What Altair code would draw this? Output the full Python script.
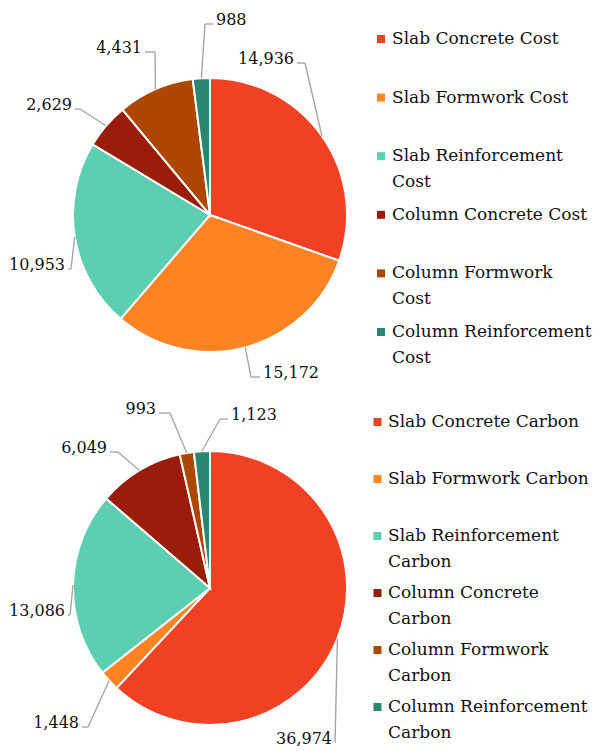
import altair as alt
import pandas as pd

# ---------------- data ----------------
cost_categories = ["Slab Concrete Cost", "Slab Formwork Cost", "Slab Reinforcement Cost",
                   "Column Concrete Cost", "Column Formwork Cost", "Column Reinforcement Cost"]
cost_legend = ["Slab Concrete Cost", "Slab Formwork Cost", "Slab Reinforcement\nCost",
               "Column Concrete Cost", "Column Formwork\nCost", "Column Reinforcement\nCost"]
cost_values = [14936, 15172, 10953, 2629, 4431, 988]

carbon_categories = ["Slab Concrete Carbon", "Slab Formwork Carbon", "Slab Reinforcement Carbon",
                     "Column Concrete Carbon", "Column Formwork Carbon", "Column Reinforcement Carbon"]
carbon_legend = ["Slab Concrete Carbon", "Slab Formwork Carbon", "Slab Reinforcement\nCarbon",
                 "Column Concrete\nCarbon", "Column Formwork\nCarbon", "Column Reinforcement\nCarbon"]
carbon_values = [36974, 1448, 13086, 6049, 993, 1123]

colors = ["#F04124", "#FF8322", "#5DCFB0", "#9A1D0A", "#AD4700", "#27876F"]

# ---------------- layout (annotation placement, not data) ----------------
W, H = 586, 740
R = 137
FONT = "DejaVu Serif"
layout = {
    "cost":   {"cx": 202, "cy": 207, "sqx": 373, "txx": 384, "ly0": 31, "lstep": 58.6,
               "ex": [95, 41, -139, -130, -55, -5], "ey": [-152, 162, 54, -106, -163, -191],
               "side": [-1, 1, -1, -1, -1, 1], "seg": [8, 9, 3, 5, 10, 8]},
    "carbon": {"cx": 202, "cy": 580, "sqx": 369.5, "txx": 380, "ly0": 414, "lstep": 57,
               "ex": [125, -122, -140, -92, -40, 10], "ey": [155, 139, 27, -136, -175, -169],
               "side": [-1, -1, -1, -1, -1, 1], "seg": [0, 6, 2, 8, 11, 8]},
}

rows = []
for chart, cats, legs, vals in [("cost", cost_categories, cost_legend, cost_values),
                                ("carbon", carbon_categories, carbon_legend, carbon_values)]:
    L = layout[chart]
    for i, (c, lg, v) in enumerate(zip(cats, legs, vals)):
        rows.append({"chart": chart, "order": i, "category": c, "legend": lg, "value": v,
                     "color": colors[i], "cx": L["cx"], "cy": L["cy"],
                     "ex": L["ex"][i], "ey": L["ey"][i], "side": L["side"][i], "seg": L["seg"][i],
                     "sqx": L["sqx"], "txx": L["txx"], "ly0": L["ly0"], "lstep": L["lstep"]})
df = pd.DataFrame(rows)

base = (
    alt.Chart(df)
    .transform_window(cum="sum(value)", groupby=["chart"], sort=[alt.SortField("order")], frame=[None, 0])
    .transform_joinaggregate(total="sum(value)", groupby=["chart"])
    .transform_calculate(a1="2*PI*datum.cum/datum.total")
    .transform_calculate(a0="2*PI*(datum.cum-datum.value)/datum.total")
    .transform_calculate(mid="(datum.a0+datum.a1)/2")
    .transform_calculate(px=f"datum.cx + {R}*sin(datum.mid)")
    .transform_calculate(py=f"datum.cy - {R}*cos(datum.mid)")
    .transform_calculate(bx="datum.cx + datum.ex")
    .transform_calculate(by="datum.cy + datum.ey")
    .transform_calculate(hx="datum.bx + datum.side*datum.seg")
    .transform_calculate(tx="datum.hx + datum.side*3")
    .transform_calculate(ty="datum.by - 4")
    .transform_calculate(ly="datum.ly0 + datum.order*datum.lstep")
)

X = lambda f: alt.X(f, scale=None, axis=None)
Y = lambda f: alt.Y(f, scale=None, axis=None)
col = alt.Color("color:N", scale=None, legend=None)

arcs = base.mark_arc(radius=R, stroke="white", strokeWidth=2).encode(
    theta=alt.Theta("a0:Q", scale=None), theta2="a1:Q",
    x=X("cx:Q"), y=Y("cy:Q"), color=col,
)

lead1 = base.mark_rule(color="#A6A6A6", strokeWidth=1.4).encode(
    x=X("px:Q"), y=Y("py:Q"), x2="bx:Q", y2="by:Q")
lead2 = base.mark_rule(color="#A6A6A6", strokeWidth=1.4).encode(
    x=X("bx:Q"), y=Y("by:Q"), x2="hx:Q", y2="by:Q")

lab_kw = dict(font=FONT, fontSize=16, baseline="middle", color="#111111")
lab_r = base.transform_filter("datum.side > 0").mark_text(align="left", **lab_kw).encode(
    x=X("tx:Q"), y=Y("ty:Q"), text=alt.Text("value:Q", format=","))
lab_l = base.transform_filter("datum.side < 0").mark_text(align="right", **lab_kw).encode(
    x=X("tx:Q"), y=Y("ty:Q"), text=alt.Text("value:Q", format=","))

leg_sq = base.mark_square(size=64, opacity=1).encode(x=X("sqx:Q"), y=Y("ly:Q"), color=col)
leg_tx = base.mark_text(align="left", baseline="top", font=FONT, fontSize=17,
                        lineBreak="\n", lineHeight=26, color="#111111", dy=-8).encode(
    x=X("txx:Q"), y=Y("ly:Q"), text="legend:N")

chart = (
    alt.layer(arcs, lead1, lead2, lab_r, lab_l, leg_sq, leg_tx)
    .properties(width=W, height=H, padding=0, autosize="none")
    .configure_view(stroke=None)
)

chart.save("out.html", embed_options={"renderer": "svg", "actions": False})
